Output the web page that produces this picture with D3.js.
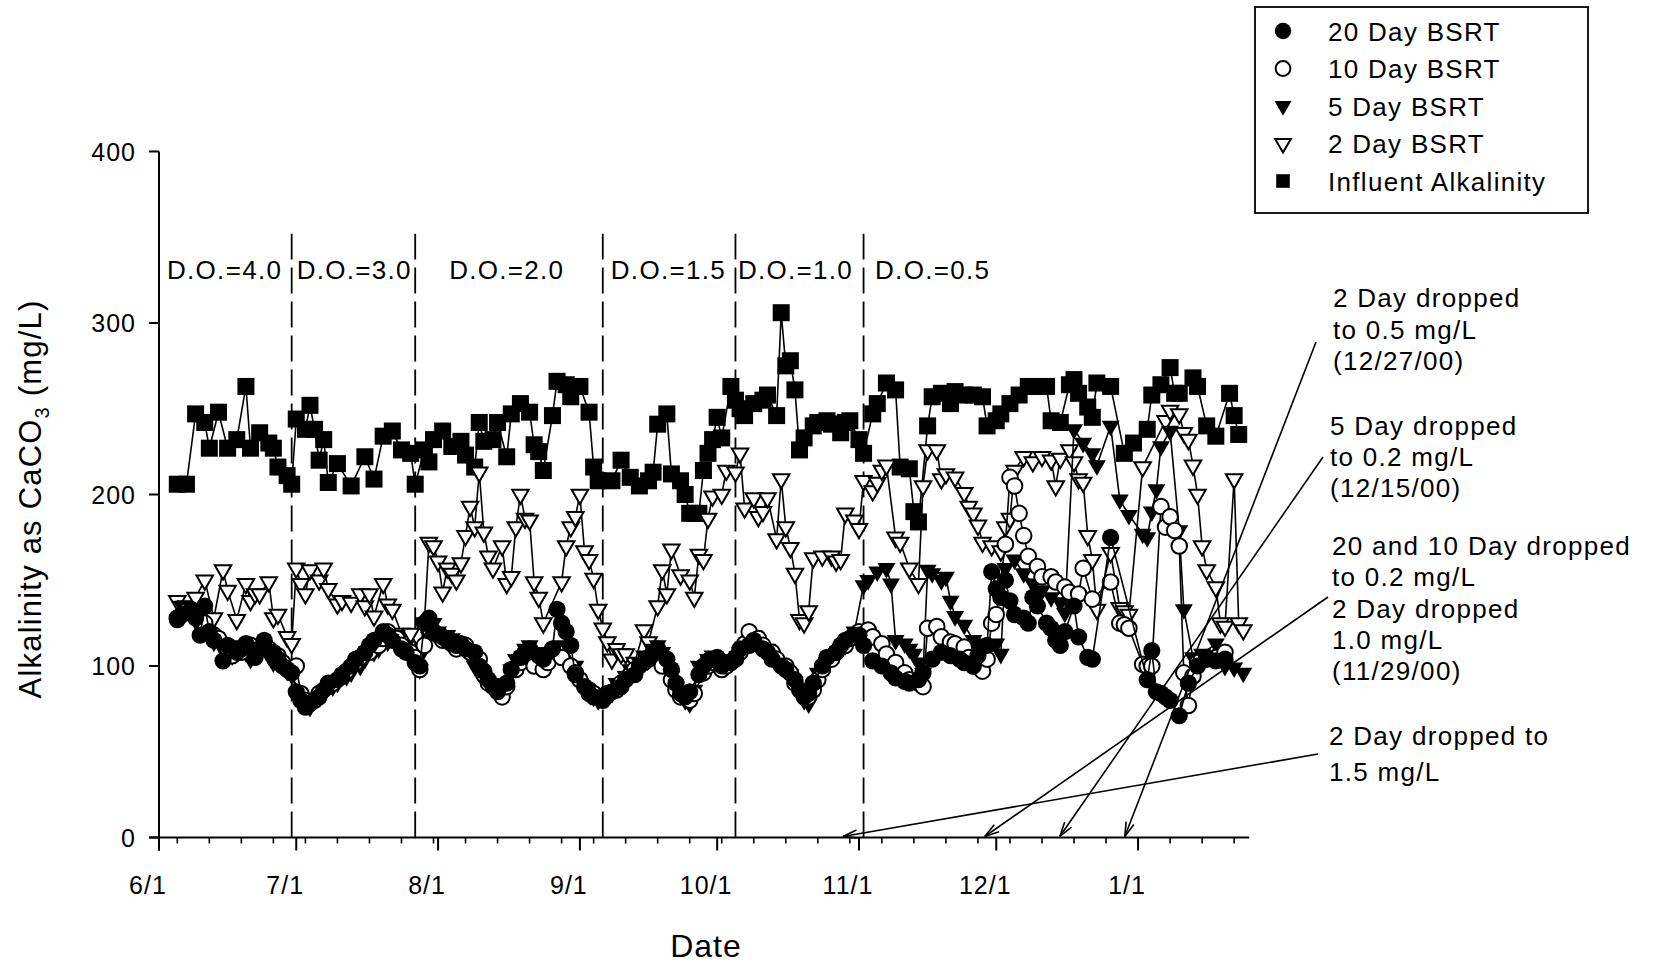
<!DOCTYPE html>
<html>
<head>
<meta charset="utf-8">
<script src="https://cdn.jsdelivr.net/npm/d3@7"></script>
<style>
  html, body { margin: 0; padding: 0; background: #fff; }
  svg { display: block; font-family: "Liberation Sans", Arial, sans-serif; }
</style>
</head>
<body>
<svg id="chart" width="1660" height="966"></svg>
<script>
// ---- Data -------------------------------------------------------------
// Each point: [days after 6/1/2000, alkalinity as CaCO3 in mg/L]
const startDate = new Date(2000, 5, 1);
const endDate = new Date(2001, 0, 25, 7);

const xTickLabels = ["6/1", "7/1", "8/1", "9/1", "10/1", "11/1", "12/1", "1/1"];
const yTickValues = [0, 100, 200, 300, 400];
const seriesNames = ["20 Day BSRT", "10 Day BSRT", "5 Day BSRT", "2 Day BSRT", "Influent Alkalinity"];

const influent = [[4,206],[6,206],[8,247],[10,242],[11,227],[13,248],[15,227],[17,232],[19,263],[20,227],[22,236],[24,230],[25,227],[26,216],[28,211],[29,206],
  [30,244],[32,238],[33,252],[34,238],[35,220],[36,232],[37,207],[39,218],[42,205],[45,222],[47,209],[49,234],[51,237],[53,226],[55,224],[56,206],
  [58,226],[59,219],[60,232],[62,237],[64,228],[66,231],[67,223],[69,216],[70,242],[71,231],[73,232],[74,242],[76,222],[77,247],[79,253],[81,248],[82,229],[83,225],[84,214],[86,246],[87,266],[89,264],[90,257],[92,263],[94,248],[95,216],[96,208],[99,208],
  [101,220],[103,210],[105,205],[107,208],[108,213],[109,241],[111,247],[112,212],[114,208],[115,200],[116,189],[117,189],[118,189],[119,214],[120,224],[121,232],[122,245],[123,233],[125,263],[126,255],[127,250],[128,246],[130,253],[132,255],[133,258],[135,246],[136,306],[137,275],[138,278],[139,261],[140,226],[141,233],[143,240],[144,242],[146,243],[147,241],[149,236],[150,242],
  [151,243],[153,232],[154,224],[156,247],[157,253],[159,265],[161,261],[162,216],[164,215],[165,190],[166,184],[168,240],[169,257],[171,259],[173,253],[174,260],[176,258],[178,258],[180,257],[181,240],[183,243],[184,247],[186,253],[188,258],[190,263],[192,263],[194,263],[195,243],[197,242],
  [199,264],[200,267],[201,259],[203,251],[204,245],[205,265],[208,263],[211,224],[213,230],[216,238],[217,258],[219,264],[221,274],[222,259],[223,259],[226,268],[227,263],[229,240],[231,234],[234,259],[235,246],[236,235]];

const bsrt2 = [[4,138],[6,135],[8,140],[10,150],[12,128],[14,156],[15,144],[17,127],[19,148],[20,138],[21,142],[22,142],[24,149],[25,128],[26,130],[28,117],[29,113],
  [30,157],[31,148],[32,142],[33,156],[35,150],[36,157],[37,145],[39,136],[40,138],[42,137],[44,142],[45,135],[46,142],[47,129],[49,148],[50,136],[51,133],[53,119],[55,119],[57,109],[58,125],
  [59,172],[60,170],[61,161],[62,143],[63,157],[64,154],[65,150],[66,160],[67,176],[68,193],[69,181],[70,213],[71,178],[72,164],[73,157],[75,170],[76,148],[77,152],[78,181],[79,200],[80,186],[81,185],[82,149],[83,140],[84,125],[88,149],[89,170],[90,181],[91,187],[92,200],[93,167],[94,162],[95,151],[96,133],[97,122],[98,114],[99,104],[100,110],[101,107],
  [102,107],[104,102],[106,121],[107,114],[109,135],[110,156],[111,142],[112,168],[114,153],[116,150],[117,140],[118,165],[119,162],[120,186],[121,199],[123,200],[124,214],[126,213],[127,224],[128,192],[130,198],[131,187],[132,190],[133,198],[135,174],[136,209],[137,181],[138,169],[139,154],[140,127],[141,125],[142,132],[143,163],[145,164],[147,164],[148,161],[149,162],[150,189],[152,185],
  [153,180],[154,208],[156,202],[157,207],[158,214],[159,217],[161,175],[162,172],[164,157],[166,148],[167,205],[168,226],[170,226],[171,209],[172,212],[174,210],[176,201],[177,193],[178,189],[179,182],[180,172],[182,170],[184,167],[185,181],[186,186],[187,214],[189,222],[191,219],[193,222],[195,220],[196,205],[197,221],[199,226],[200,219],[201,209],[202,207],[203,176],[204,162],[205,133],[208,166],[210,134],[211,132],[212,130],[215,216],
  [220,243],[221,249],[223,247],[224,236],[225,232],[226,217],[227,200],[228,170],[229,156],[231,146],[232,125],[233,123],[235,209],[236,125],[237,121]];

const bsrt5 = [[5,135],[7,130],[9,122],[11,118],[12,114],[14,110],[16,106],[17,112],[19,108],[20,104],[22,112],[24,106],[25,102],[27,100],[28,97],[29,95],
  [31,82],[32,78],[33,76],[34,80],[36,84],[38,88],[39,90],[41,94],[42,96],[44,100],[45,104],[47,108],[48,110],[50,114],[51,116],[52,118],[54,112],[55,106],[56,100],[57,98],[58,110],
  [59,117],[60,125],[61,120],[63,118],[64,116],[66,112],[68,106],[69,100],[70,96],[71,92],[73,90],[74,86],[75,84],[77,98],[78,104],[80,110],[81,112],[83,108],[85,100],[86,105],[88,112],[89,110],[91,100],
  [92,90],[93,86],[95,82],[96,80],[98,82],[99,84],[100,90],[102,94],[103,98],[105,102],[106,106],[108,110],[109,112],[110,108],[112,94],[113,88],[115,80],[116,78],[117,86],[118,100],[120,104],[121,106],[123,104],[124,102],
  [125,104],[127,108],[128,110],[130,118],[131,112],[133,110],[134,106],[135,102],[136,100],[138,95],[140,84],[141,80],[142,78],[143,88],[144,96],[146,102],[147,106],[149,110],[150,112],[151,116],
  [152,120],[154,147],[155,150],[157,155],[159,157],[160,148],[161,115],[163,113],[164,110],[165,107],[166,102],[167,96],[168,156],[169,154],[171,150],[172,152],[173,138],[174,129],[176,124],[178,115],[179,113],[181,111],[183,113],[184,107],
  [185,157],[187,162],[189,154],[191,148],[193,144],[195,140],[197,137],[198,131],[200,238],[202,230],[204,224],[205,217],[208,240],[210,197],[212,188],[215,177],[216,175],[217,190],[218,203],[219,228],[221,237],[223,179],[224,133],[226,105],[228,107],[231,113],[233,100],[235,99],[237,96]];

const bsrt10 = [[4,128],[6,132],[8,130],[10,125],[12,118],[13,116],[15,110],[16,106],[18,108],[20,112],[21,109],[23,112],[24,110],[26,106],[27,102],[29,98],
  [30,100],[31,84],[32,80],[34,80],[35,84],[37,88],[38,90],[40,94],[41,97],[43,102],[44,105],[46,108],[48,112],[49,116],[50,120],[52,116],[53,112],[55,108],[56,105],[57,98],
  [58,112],[59,122],[61,118],[62,115],[64,113],[65,110],[67,112],[68,108],[70,104],[71,95],[72,90],[74,86],[75,82],[76,88],[78,98],[79,102],[81,105],[82,100],[84,98],[85,102],[87,108],[88,105],[90,100],[91,96],
  [92,92],[94,86],[95,84],[97,82],[98,84],[100,86],[101,90],[103,95],[104,98],[106,102],[107,104],[109,106],[110,100],[112,92],[113,86],[114,82],[116,80],[117,84],[119,96],[120,100],[121,102],[123,98],[124,100],
  [126,104],[127,108],[128,113],[129,120],[131,116],[132,112],[134,108],[135,104],[137,100],[138,96],[139,90],[141,84],[142,82],[143,86],[144,92],[145,98],[147,104],[148,108],[150,112],[151,116],
  [153,120],[155,121],[156,117],[158,113],[159,107],[161,102],[163,96],[164,92],[166,90],[167,88],[168,122],[170,123],[171,117],[173,114],[174,113],[176,111],[177,105],[178,100],[180,97],[181,104],
  [182,125],[183,130],[185,171],[186,210],[187,205],[188,189],[189,176],[190,164],[192,158],[193,152],[195,152],[196,149],[198,146],[199,143],[201,142],[202,157],[204,139],[208,149],[210,125],[211,124],[212,122],[215,101],[216,100],[217,100],
  [219,193],[220,181],[221,187],[222,179],[223,170],[224,96],[225,77],[226,94],[227,102],[229,104],[231,105],[233,108]];

const bsrt20 = [[4,127],[5,130],[7,133],[8,128],[9,118],[10,135],[11,120],[12,115],[14,103],[15,112],[17,108],[18,110],[19,113],[21,105],[22,110],[23,115],[25,108],[26,104],[27,100],[28,98],[29,96],
  [30,85],[31,80],[32,76],[33,78],[35,82],[36,86],[37,90],[39,92],[40,95],[42,100],[43,104],[45,108],[46,112],[47,115],[49,120],[50,118],[51,115],[53,110],[54,108],[56,102],[57,100],
  [58,125],[59,128],[60,120],[62,117],[63,115],[65,112],[66,113],[67,110],[69,108],[70,100],[71,97],[72,92],[73,88],[74,85],[76,90],[77,98],[79,105],[80,108],[81,110],[83,106],[84,104],[86,110],[87,133],[88,125],[89,120],[90,112],[91,95],
  [93,88],[94,84],[95,82],[97,80],[98,83],[99,85],[101,88],[102,92],[104,95],[105,100],[107,105],[108,108],[109,110],[111,104],[112,98],[113,90],[114,84],[115,82],[116,85],[118,95],[119,100],[120,103],[122,105],[123,100],[125,102],
  [126,105],[127,110],[129,112],[130,115],[132,110],[133,108],[134,104],[136,100],[137,98],[139,92],[140,86],[141,82],[142,84],[143,90],[145,100],[146,105],[148,108],[149,112],[150,115],[152,118],
  [153,118],[154,112],[156,103],[158,100],[160,96],[161,93],[163,91],[164,90],[166,92],[167,96],[169,104],[171,108],[173,106],[175,104],[176,102],[178,100],[179,106],[181,112],
  [182,155],[183,145],[184,140],[185,150],[186,138],[187,130],[189,128],[190,125],[191,140],[192,135],[194,125],[195,122],[196,115],[197,112],[198,120],[200,135],[201,117],[203,105],[204,104],[208,175],
  [216,92],[217,109],[218,85],[219,84],[220,82],[221,80],[223,71],[225,90],[227,100],[229,105],[231,103],[233,104]];

// Dissolved-oxygen set point changes (days after 6/1/2000)
const doChangeDays = [29, 56, 97, 126, 154];
const doLabels = ["D.O.=4.0", "D.O.=3.0", "D.O.=2.0", "D.O.=1.5", "D.O.=1.0", "D.O.=0.5"];

// Operating notes and the day each note points at
const noteLines = [
  ["2 Day dropped", "to 0.5 mg/L", "(12/27/00)"],
  ["5 Day dropped", "to 0.2 mg/L", "(12/15/00)"],
  ["20 and 10 Day dropped", "to 0.2 mg/L", "2 Day dropped", "1.0 mg/L", "(11/29/00)"],
  ["2 Day dropped to", "1.5 mg/L"]
];
const noteTargetDays = [211.1, 196.9, 180.5, 149.5];

// ---- Layout -----------------------------------------------------------
const svg = d3.select("#chart");
const x = d3.scaleTime().domain([startDate, endDate]).range([159, 1249.2]);
const y = d3.scaleLinear().domain([0, 400]).range([837.5, 151.5]);
const toDate = d => d3.timeDay.offset(startDate, Math.floor(d)).getTime() + (d % 1) * 864e5;

const textStyle = (sel, size, spacing) => sel
  .attr("font-size", size).attr("letter-spacing", spacing).attr("fill", "#000");

// ---- Axes -------------------------------------------------------------
const axisG = svg.append("g").attr("stroke", "#000").attr("stroke-width", 2).attr("fill", "none");
// y axis line (continues down as the first date tick)
axisG.append("line").attr("x1", x(startDate)).attr("x2", x(startDate))
  .attr("y1", y(400)).attr("y2", y(0) + 13);
// x axis line
axisG.append("line").attr("x1", x(startDate) - 10).attr("x2", x(endDate))
  .attr("y1", y(0)).attr("y2", y(0));

// y ticks and labels
yTickValues.forEach(v => {
  axisG.append("line").attr("x1", x(startDate) - 10).attr("x2", x(startDate))
    .attr("y1", y(v)).attr("y2", y(v));
  svg.append("text").attr("x", 136).attr("y", y(v) + 9).attr("text-anchor", "end")
    .call(textStyle, 25, 1).text(v);
});

// weekly minor ticks
d3.timeMonday.range(startDate, endDate).forEach(d => {
  axisG.append("line").attr("x1", x(d)).attr("x2", x(d))
    .attr("y1", y(0)).attr("y2", y(0) + 6).attr("stroke-width", 1.6);
});
// monthly major ticks and labels
const monthTicks = d3.timeMonth.range(startDate, endDate).slice(0, xTickLabels.length);
monthTicks.forEach((d, i) => {
  axisG.append("line").attr("x1", x(d)).attr("x2", x(d))
    .attr("y1", y(0)).attr("y2", y(0) + 13);
  svg.append("text").attr("x", x(d) - 11).attr("y", 894).attr("text-anchor", "middle")
    .call(textStyle, 25, 1).text(xTickLabels[i]);
});

// axis titles
svg.append("text").attr("x", 706).attr("y", 957).attr("text-anchor", "middle")
  .call(textStyle, 32, 1).text("Date");
const yTitle = svg.append("text").attr("transform", "translate(41,499) rotate(-90)")
  .attr("text-anchor", "middle").call(textStyle, 31, 1.2);
yTitle.append("tspan").text("Alkalinity as CaCO");
yTitle.append("tspan").attr("font-size", 20).attr("dy", 8).text("3");
yTitle.append("tspan").attr("dy", -8).text(" (mg/L)");

// ---- D.O. period boundaries ------------------------------------------
const doOffsets = [8, 5, 34, 8, 2.5, 11.5];
doChangeDays.forEach(d => {
  svg.append("line").attr("x1", x(toDate(d))).attr("x2", x(toDate(d)))
    .attr("y1", y(0)).attr("y2", y(352))
    .attr("stroke", "#000").attr("stroke-width", 1.8).attr("stroke-dasharray", "26,8");
});
doLabels.forEach((t, i) => {
  const left = i === 0 ? x(startDate) : x(toDate(doChangeDays[i - 1]));
  svg.append("text").attr("x", left + doOffsets[i]).attr("y", 279)
    .call(textStyle, 26, 1.3).text(t);
});

// ---- Series -----------------------------------------------------------
const triPath = d3.symbol().type(d3.symbolTriangle);
const series = [
  { data: influent, shape: "square", fill: "#000" },
  { data: bsrt2, shape: "tri", fill: "#fff" },
  { data: bsrt5, shape: "tri", fill: "#000" },
  { data: bsrt10, shape: "circle", fill: "#fff" },
  { data: bsrt20, shape: "circle", fill: "#000" }
];

function drawMarker(g, shape, fill, cx, cy, scale = 1) {
  const open = fill === "#fff";
  if (shape === "square") {
    const s = 17 * scale;
    g.append("rect").attr("x", cx - s / 2).attr("y", cy - s / 2).attr("width", s).attr("height", s)
      .attr("fill", "#000");
  } else if (shape === "circle") {
    g.append("circle").attr("cx", cx).attr("cy", cy).attr("r", (open ? 7.8 : 8.6) * scale)
      .attr("fill", fill).attr("stroke", "#000").attr("stroke-width", open ? 2 : 0);
  } else {
    g.append("path").attr("d", triPath.size((open ? 118 : 140) * scale * scale)())
      .attr("transform", `translate(${cx},${cy}) rotate(180)`)
      .attr("fill", fill).attr("stroke", "#000").attr("stroke-width", open ? 2 : 0)
      .attr("stroke-linejoin", "miter");
  }
}

const line = d3.line().x(p => x(toDate(p[0]))).y(p => y(p[1]));
series.forEach(s => {
  const g = svg.append("g");
  g.append("path").attr("d", line(s.data)).attr("fill", "none")
    .attr("stroke", "#000").attr("stroke-width", 1.6);
  s.data.forEach(p => drawMarker(g, s.shape, s.fill, x(toDate(p[0])), y(p[1])));
});

// ---- Notes with arrows -----------------------------------------------
const noteX = [1333, 1330, 1332, 1329];
const noteBaseline = [307, 435, 555, 745];
const noteLeading = [31.5, 31, 31.3, 36];
const arrowFrom = [[1316, 342], [1323, 457], [1328, 597], [1318, 754]];
noteLines.forEach((lines, i) => {
  lines.forEach((t, j) => {
    svg.append("text").attr("x", noteX[i]).attr("y", noteBaseline[i] + j * noteLeading[i])
      .call(textStyle, 26, 1.3).text(t);
  });
  const tx = x(toDate(noteTargetDays[i])), ty = y(0) - 1;
  const [fx, fy] = arrowFrom[i];
  const g = svg.append("g").attr("stroke", "#000").attr("stroke-width", 1.6).attr("fill", "none");
  g.append("line").attr("x1", fx).attr("y1", fy).attr("x2", tx).attr("y2", ty);
  const ang = Math.atan2(fy - ty, fx - tx);
  [-0.28, 0.28].forEach(da => {
    g.append("line").attr("x1", tx).attr("y1", ty)
      .attr("x2", tx + 15 * Math.cos(ang + da)).attr("y2", ty + 15 * Math.sin(ang + da));
  });
});

// ---- Legend -------------------------------------------------------------
const legend = svg.append("g");
legend.append("rect").attr("x", 1255).attr("y", 7).attr("width", 333).attr("height", 206)
  .attr("fill", "#fff").attr("stroke", "#000").attr("stroke-width", 1.8);
const legendShapes = [["circle", "#000"], ["circle", "#fff"], ["tri", "#000"], ["tri", "#fff"], ["square", "#000"]];
seriesNames.forEach((name, i) => {
  const cy = 31 + i * 37.5;
  drawMarker(legend, legendShapes[i][0], legendShapes[i][1], 1283, cy, i === 4 ? 0.8 : 0.95);
  legend.append("text").attr("x", 1328).attr("y", cy + 9.5).call(textStyle, 26, 1.3).text(name);
});
</script>
</body>
</html>
